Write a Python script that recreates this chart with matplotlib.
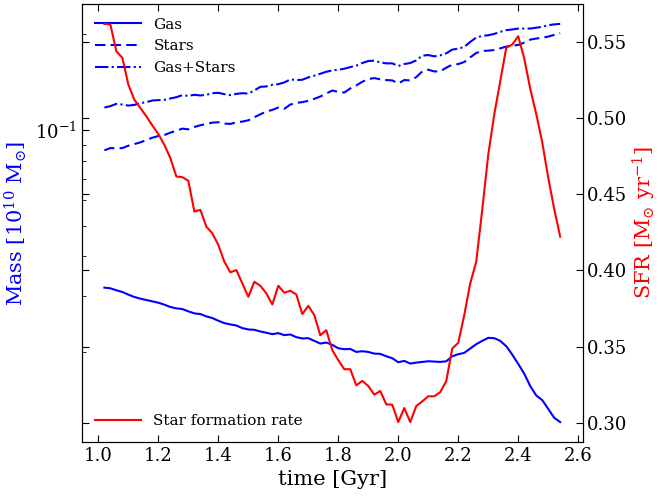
import matplotlib
matplotlib.use("Agg")
import matplotlib.pyplot as plt

plt.rcParams['font.family'] = 'DejaVu Serif'
plt.rcParams['mathtext.fontset'] = 'dejavuserif'

# Time [Gyr]
time = [1.02, 1.04, 1.06, 1.08, 1.10, 1.12, 1.14, 1.16, 1.18, 1.20,
        1.22, 1.24, 1.26, 1.28, 1.30, 1.32, 1.34, 1.36, 1.38, 1.40,
        1.42, 1.44, 1.46, 1.48, 1.50, 1.52, 1.54, 1.56, 1.58, 1.60,
        1.62, 1.64, 1.66, 1.68, 1.70, 1.72, 1.74, 1.76, 1.78, 1.80,
        1.82, 1.84, 1.86, 1.88, 1.90, 1.92, 1.94, 1.96, 1.98, 2.00,
        2.02, 2.04, 2.06, 2.08, 2.10, 2.12, 2.14, 2.16, 2.18, 2.20,
        2.22, 2.24, 2.26, 2.28, 2.30, 2.32, 2.34, 2.36, 2.38, 2.40,
        2.42, 2.44, 2.46, 2.48, 2.50, 2.52, 2.54]

# Masses [1e10 Msun]
gas = [.03186, .03171, .03125, .03087, .03028, .02977, .02941, .02912, .02884, .02856,
       .02815, .02768, .02741, .02728, .02682, .02643, .02630, .02586, .02555, .02505,
       .02463, .02439, .02421, .02375, .02352, .02346, .02318, .02296, .02273, .02290,
       .02257, .02268, .02224, .02203, .02208, .02165, .02123, .02139, .02103, .02052,
       .02038, .02042, .01998, .02008, .01998, .01974, .01970, .01936, .01909, .01854,
       .01872, .01836, .01849, .01858, .01867, .01863, .01858, .01867, .01936, .01965,
       .01984, .02048, .02113, .02165, .02213, .02208, .02165, .02083, .01960, .01832,
       .01707, .01560, .01457, .01409, .01322, .01239, .01201]

stars = [.08627, .08774, .08752, .08774, .08923, .09033, .09143, .09299, .09458, .09574,
         .09645, .09810, .09954, .1010, .1005, .1022, .1035, .1045, .1055, .1058,
         .1048, .1045, .1058, .1063, .1073, .1097, .1121, .1143, .1157, .1177,
         .1166, .1203, .1218, .1224, .1236, .1254, .1275, .1303, .1332, .1319,
         .1313, .1352, .1382, .1419, .1447, .1458, .1444, .1437, .1433, .1402,
         .1437, .1433, .1468, .1530, .1549, .1530, .1530, .1572, .1606, .1614,
         .1638, .1694, .1749, .1775, .1779, .1787, .1809, .1832, .1845, .1854,
         .1886, .1927, .1942, .1953, .1970, .1994, .2018]

total = [.1177, .1189, .1209, .1203, .1194, .1200, .1215, .1224, .1239, .1242,
         .1245, .1257, .1269, .1288, .1281, .1291, .1285, .1291, .1306, .1310,
         .1297, .1288, .1300, .1306, .1303, .1332, .1368, .1372, .1388, .1395,
         .1412, .1444, .1437, .1440, .1465, .1483, .1504, .1526, .1541, .1549,
         .1560, .1579, .1595, .1626, .1650, .1654, .1634, .1622, .1622, .1591,
         .1614, .1626, .1658, .1715, .1723, .1707, .1719, .1745, .1792, .1805,
         .1827, .1895, .1956, .1980, .1989, .2009, .2038, .2064, .2074, .2088,
         .2088, .2088, .2101, .2114, .2140, .2152, .2160]

# Star formation rate [Msun/yr]
sfr = [.5618, .5614, .5438, .5395, .5219, .5120, .5066, .5011, .4951, .4895,
       .4824, .4737, .4616, .4612, .4588, .4386, .4397, .4287, .4243, .4167,
       .4057, .3987, .4002, .3914, .3826, .3925, .3899, .3849, .3776, .3899,
       .3853, .3866, .3842, .3713, .3767, .3706, .3574, .3607, .3476, .3410,
       .3351, .3351, .3245, .3274, .3241, .3184, .3208, .3120, .3118, .3004,
       .3096, .3004, .3109, .3140, .3173, .3173, .3201, .3272, .3487, .3524,
       .3706, .3914, .4057, .4397, .4759, .5022, .5241, .5461, .5482, .5537,
       .5392, .5193, .5028, .4842, .4609, .4403, .4221]

fig = plt.figure(figsize=(6.58, 4.98), dpi=100)
ax1 = fig.add_axes([0.124, 0.1125, 0.762, 0.8795])

ax1.plot(time, gas, color='b', ls='-', lw=1.5, label='Gas')
ax1.plot(time, stars, color='b', ls=(0, (5, 2.5)), lw=1.5, label='Stars')
ax1.plot(time, total, color='b', ls='-.', lw=1.5, label='Gas+Stars')
ax1.set_yscale('log')
ax1.set_xlabel('time [Gyr]', fontsize=15)
ax1.set_ylabel(r'Mass [$10^{10}$ M$_{\odot}$]', color='b', fontsize=15)
ax1.tick_params(which='both', direction='in', top=True, labelsize=13)
ax1.tick_params(which='major', length=5)
ax1.tick_params(which='minor', length=3)
ax1.legend(loc='upper left', frameon=False, fontsize=11, handlelength=3)

ax2 = ax1.twinx()
ax2.plot(time, sfr, 'r-', lw=1.5, label='Star formation rate')
ax2.set_ylabel(r'SFR [M$_{\odot}$ yr$^{-1}$]', color='r', fontsize=15, labelpad=2)
ax2.tick_params(direction='in', left=True, length=5, labelsize=13, pad=3)
ax2.legend(loc='lower left', frameon=False, fontsize=11, handlelength=3)

fig.savefig('out.png', dpi=100)
